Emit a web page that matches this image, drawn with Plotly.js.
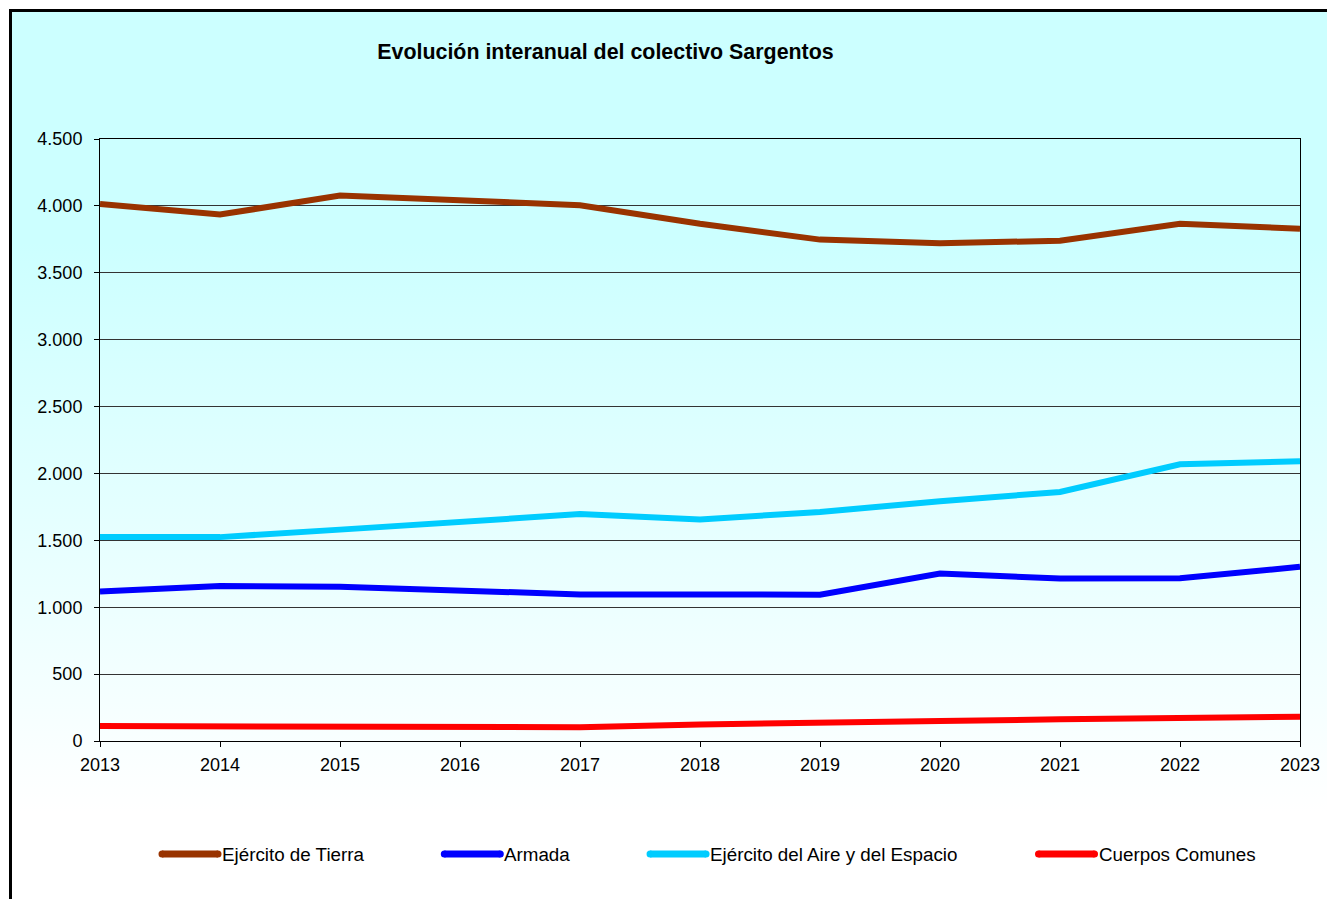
<!DOCTYPE html>
<html>
<head>
<meta charset="utf-8">
<script src="https://cdn.plot.ly/plotly-3.0.1.min.js"></script>
<style>
  html, body { margin: 0; padding: 0; background: #ffffff; overflow: hidden; }
  #frame {
    position: absolute; left: 9px; top: 9px; width: 1400px; height: 1000px;
    border-left: 3px solid #000; border-top: 3px solid #000;
    background: linear-gradient(to bottom, #CCFFFF 0px, #CCFFFF 230px, #FFFFFF 800px, #FFFFFF 1000px);
  }
  #chart { position: absolute; left: 0; top: 0; width: 1327px; height: 899px; }
</style>
</head>
<body>
<div id="frame"></div>
<div id="chart"></div>
<script>
// ---- data ----
const years = [2013, 2014, 2015, 2016, 2017, 2018, 2019, 2020, 2021, 2022, 2023];
const ejercitoTierra = [4015, 3935, 4078, 4038, 4005, 3866, 3748, 3720, 3740, 3866, 3830];
const armada = [1118, 1158, 1153, 1126, 1096, 1095, 1094, 1252, 1214, 1216, 1302];
const ejercitoAire = [1525, 1524, 1580, 1636, 1696, 1656, 1712, 1792, 1862, 2068, 2091];
const cuerposComunes = [112, 112, 106, 105, 103, 124, 142, 150, 162, 173, 182];
const seriesNames = ["Ejército de Tierra", "Armada", "Ejército del Aire y del Espacio", "Cuerpos Comunes"];
const seriesColors = ["#993300", "#0000FF", "#00CCFF", "#FF0000"];
const seriesValues = [ejercitoTierra, armada, ejercitoAire, cuerposComunes];
const yTickVals = [0, 500, 1000, 1500, 2000, 2500, 3000, 3500, 4000, 4500];

const FONT = '"Liberation Sans", Arial, sans-serif';
const W = 1327, H = 899;
const M = { l: 100, r: 27, t: 139, b: 158 };
const plotW = W - M.l - M.r, plotH = H - M.t - M.b;

const traces = seriesNames.map((name, i) => ({
  type: 'scatter', mode: 'lines', name: name,
  x: years, y: seriesValues[i],
  line: { color: seriesColors[i], width: 6 },
  cliponaxis: false,
  showlegend: false
}));

// custom legend laid out like the reference (line sample + text, equal gaps)
const legendFontSize = 18.8;
const ctx = document.createElement('canvas').getContext('2d');
ctx.font = legendFontSize + 'px ' + FONT;
const legendYpx = 854;          // centre line of the legend row
const legendStartPx = 162;      // left end of the first sample line
const sampleLen = 56, textGap = 3, itemGap = 81;
const toPX = px => (px - M.l) / plotW;
const toPY = py => (H - M.b - py) / plotH;

const shapes = [], annotations = [];
let cur = legendStartPx;
seriesNames.forEach((name, i) => {
  const x0 = cur, x1 = cur + sampleLen;
  shapes.push({ type: 'line', xref: 'paper', yref: 'paper',
    x0: toPX(x0), x1: toPX(x1), y0: toPY(legendYpx), y1: toPY(legendYpx),
    line: { color: seriesColors[i], width: 7 } });
  [x0, x1].forEach(cx => shapes.push({ type: 'circle', xref: 'paper', yref: 'paper',
    x0: toPX(cx - 3.5), x1: toPX(cx + 3.5), y0: toPY(legendYpx + 3.5), y1: toPY(legendYpx - 3.5),
    fillcolor: seriesColors[i], line: { width: 0 } }));
  annotations.push({ xref: 'paper', yref: 'paper', x: toPX(x1 + textGap), y: toPY(legendYpx),
    xanchor: 'left', yanchor: 'middle', showarrow: false, text: name, borderpad: 0,
    font: { family: FONT, size: legendFontSize, color: '#000' } });
  cur = x1 + textGap + ctx.measureText(name).width + itemGap;
});

const layout = {
  width: W, height: H,
  margin: M,
  paper_bgcolor: 'rgba(0,0,0,0)',
  plot_bgcolor: 'rgba(0,0,0,0)',
  separators: ',.',
  font: { family: FONT, size: 18, color: '#000' },
  title: {
    text: 'Evolución interanual del colectivo Sargentos',
    font: { family: FONT, size: 21.4, color: '#000', weight: 'bold' },
    xref: 'container', yref: 'container',
    x: 605.5 / W, y: 1 - 52 / H, xanchor: 'center', yanchor: 'middle'
  },
  xaxis: {
    type: 'linear', range: [years[0], years[years.length - 1]],
    tickmode: 'array', tickvals: years, ticktext: years.map(String),
    showgrid: false, zeroline: false,
    showline: true, linecolor: '#000', linewidth: 1, mirror: true,
    ticks: 'outside', ticklen: 5, tickcolor: '#000',
    ticklabelstandoff: 2,
    tickfont: { family: FONT, size: 18, color: '#000' }
  },
  yaxis: {
    range: [0, 4500], tickmode: 'array', tickvals: yTickVals, tickformat: ',d',
    showgrid: true, gridcolor: '#333', gridwidth: 1, zeroline: false,
    showline: true, linecolor: '#000', linewidth: 1, mirror: true,
    ticks: 'outside', ticklen: 5, tickcolor: '#000',
    ticklabelstandoff: 8,
    tickfont: { family: FONT, size: 18, color: '#000' }
  },
  shapes: shapes,
  annotations: annotations,
  showlegend: false
};

Plotly.newPlot('chart', traces, layout, { displayModeBar: false, staticPlot: true });
</script>
</body>
</html>
